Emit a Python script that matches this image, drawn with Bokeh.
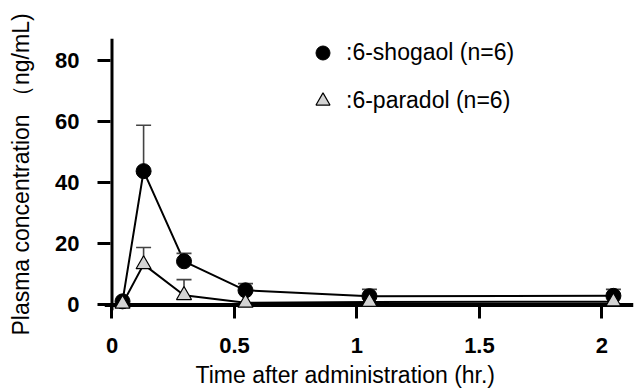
from bokeh.plotting import figure
from bokeh.models import (Range1d, Legend, LegendItem, Title, FixedTicker,
                          NumeralTickFormatter, Span)
from bokeh.embed import file_html
from bokeh.resources import INLINE

# ---- data ----
time_hr = [0.043, 0.129, 0.294, 0.545, 1.051, 2.047]
shogaol_mean = [1.2, 43.8, 14.3, 4.8, 2.9, 3.0]
shogaol_sd = [0.0, 15.0, 2.6, 2.2, 2.2, 2.1]
paradol_mean = [0.4, 13.3, 3.2, 0.7, 1.0, 1.1]
paradol_sd = [0.0, 5.5, 5.1, 0.0, 0.0, 0.0]
x_ticks = [0, 0.5, 1, 1.5, 2]
y_ticks = [0, 20, 40, 60, 80]
legend_shogaol = ":6-shogaol (n=6)"
legend_paradol = ":6-paradol (n=6)"
x_title = "Time after administration (hr.)"
y_title = "Plasma concentration \uff08ng/mL)"

FONT = "Liberation Sans"

p = figure(width=635, height=392,
           x_range=Range1d(-0.0306, 2.129), y_range=Range1d(-1.8, 87.2),
           output_backend="svg", toolbar_location=None,
           min_border_left=104, min_border_right=2,
           min_border_top=38, min_border_bottom=82)
p.outline_line_color = None
p.grid.visible = False

# axis lines drawn at data zero
p.add_layout(Span(location=0, dimension="width", line_color="black",
                  line_width=4, level="underlay"))
p.add_layout(Span(location=0, dimension="height", line_color="black",
                  line_width=3, level="underlay"))

p.xaxis.ticker = FixedTicker(ticks=x_ticks)
p.yaxis.ticker = FixedTicker(ticks=y_ticks)
p.xaxis.formatter = NumeralTickFormatter(format="0.[0]")
for ax in (p.xaxis[0], p.yaxis[0]):
    ax.axis_line_color = None
    ax.major_tick_line_color = "black"
    ax.major_tick_line_width = 3
    ax.minor_tick_line_color = None
    ax.major_label_text_font = FONT
    ax.major_label_text_font_style = "bold"
    ax.major_label_text_font_size = "22px"
    ax.major_label_text_color = "black"
p.xaxis.major_tick_in = 4
p.xaxis.major_tick_out = 8
p.yaxis.major_tick_in = 6
p.yaxis.major_tick_out = 7
p.xaxis.major_label_standoff = 19
p.yaxis.major_label_standoff = 18

p.yaxis.axis_label = y_title
p.yaxis.axis_label_text_font = FONT
p.yaxis.axis_label_text_font_style = "normal"
p.yaxis.axis_label_text_font_size = "23px"
p.yaxis.axis_label_text_color = "black"
p.yaxis.axis_label_standoff = 18

p.add_layout(Title(text=x_title, align="left", offset=91, standoff=8,
                   vertical_align="bottom",
                   text_font=FONT, text_font_size="23px",
                   text_font_style="normal", text_color="black"), "below")

# connecting lines
p.line(time_hr, shogaol_mean, line_color="black", line_width=2)
p.line(time_hr, paradol_mean, line_color="black", line_width=2)

# upper error bars (only where an SD is drawn)
def upper_bars(t, m, sd):
    tt = [a for a, s in zip(t, sd) if s > 0]
    mm = [b for b, s in zip(m, sd) if s > 0]
    top = [b + s for b, s in zip(m, sd) if s > 0]
    p.segment(x0=tt, y0=mm, x1=tt, y1=top, line_color="#444444", line_width=1.6)
    p.scatter(tt, top, marker="dash", size=15, line_color="#444444", line_width=1.6)

upper_bars(time_hr, shogaol_mean, shogaol_sd)
upper_bars(time_hr, paradol_mean, paradol_sd)

r_s = p.scatter(time_hr, shogaol_mean, marker="circle", size=15,
                fill_color="black", line_color="black")
r_p = p.scatter(time_hr, paradol_mean, marker="triangle", size=15,
                fill_color="#d4d4d4", line_color="black", line_width=1.2)

def make_legend(label, rend, vy):
    leg = Legend(items=[LegendItem(label=label, renderers=[rend])],
                 location=(200, vy), glyph_width=37, glyph_height=35,
                 label_height=35, label_standoff=5, padding=0, margin=0,
                 spacing=0, border_line_alpha=0, background_fill_alpha=0,
                 label_text_font=FONT, label_text_font_size="23px",
                 label_text_color="black")
    p.add_layout(leg)

# vy = frame_bottom - legend_top - legend_height (screen px)
make_legend(legend_shogaol, r_s, 240.5)
make_legend(legend_paradol, r_p, 192.5)

open("out.html", "w").write(file_html(p, INLINE))
